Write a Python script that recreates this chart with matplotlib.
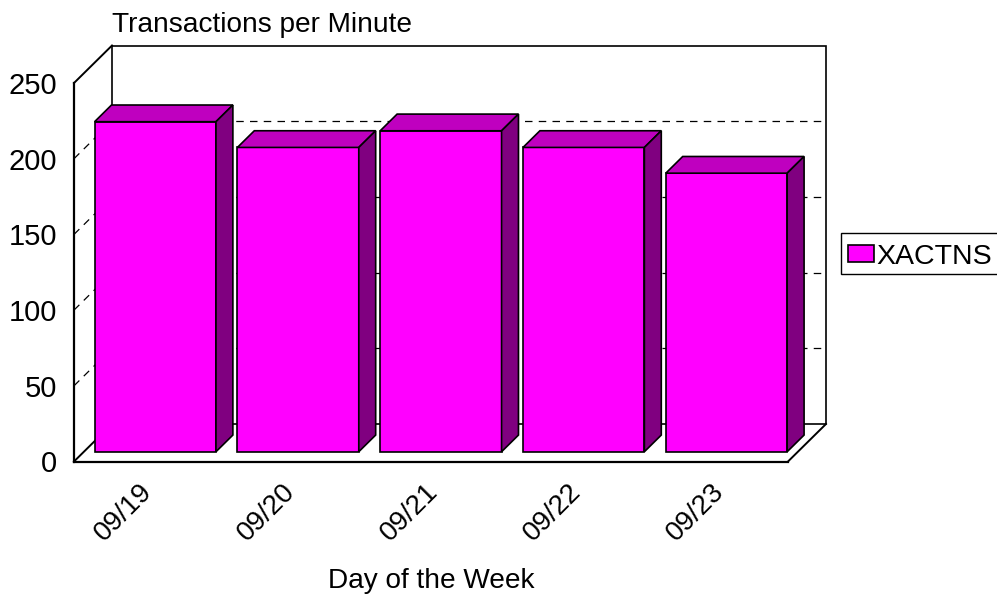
import matplotlib
matplotlib.use("Agg")
import matplotlib.pyplot as plt
from matplotlib.patches import Polygon, Patch
from matplotlib.transforms import ScaledTranslation

plt.rcParams['font.family'] = ['Liberation Sans', 'DejaVu Sans']

days = ['09/19', '09/20', '09/21', '09/22', '09/23']
xactns = [218, 201, 212, 201, 184]
y_ticks = [0, 50, 100, 150, 200, 250]
grid_vals = [50, 100, 150, 200]

W, H = 997, 595
fig = plt.figure(figsize=(W / 100, H / 100), dpi=100)
L, R, T, B = 74.0, 788.0, 83.0, 461.5
ax = fig.add_axes([L / W, 1 - B / H, (R - L) / W, (B - T) / H])
ax.set_xlim(0, 5)
ax.set_ylim(0, 250)

DX = 38.0 / ((R - L) / 5)          # wall depth in x units
DY = 37.5 / ((B - T) / 250)        # wall depth in y units
FRONT, BACK = 0.26, 0.705          # bar depth as a fraction of the wall depth
WIDTH = 0.85


def P(x, y, d=0.0):
    return (x + DX * d, y + DY * d)


def line(a, b, z=1, **kw):
    kw.setdefault('color', 'black')
    kw.setdefault('lw', 1.4)
    ax.plot([a[0], b[0]], [a[1], b[1]], zorder=z, clip_on=False,
            solid_capstyle='projecting', **kw)


# back wall and floor
ax.add_patch(Polygon([P(0, 0, 1), P(5, 0, 1), P(5, 250, 1), P(0, 250, 1)], closed=True,
                     fc='white', ec='black', lw=1.2, zorder=1, clip_on=False))
line(P(0, 250), P(0, 250, 1))
line(P(0, 0), P(0, 0, 1))
line(P(5, 0), P(5, 0, 1))

# dashed grid on back and side walls
for v in grid_vals:
    line(P(0, v, 1), P(5, v, 1), z=1.5, lw=0.9, linestyle=(0, (6, 5)))
    line(P(0, v), P(0, v, 1), z=1.5, lw=0.9, linestyle=(0, (6, 5)))

# pseudo-3D bars
for i, v in enumerate(xactns):
    x0, x1 = i + 0.5 - WIDTH / 2, i + 0.5 + WIDTH / 2
    kw = dict(closed=True, ec='black', lw=1.2, zorder=3, clip_on=False, joinstyle='miter')
    ax.add_patch(Polygon([P(x0, 0, FRONT), P(x1, 0, FRONT), P(x1, v, FRONT), P(x0, v, FRONT)],
                         fc='#FF00FF', **kw))
    ax.add_patch(Polygon([P(x0, v, FRONT), P(x1, v, FRONT), P(x1, v, BACK), P(x0, v, BACK)],
                         fc='#BF00BF', **kw))
    ax.add_patch(Polygon([P(x1, 0, FRONT), P(x1, 0, BACK), P(x1, v, BACK), P(x1, v, FRONT)],
                         fc='#800080', **kw))

# axes furniture
for s in ('top', 'right'):
    ax.spines[s].set_visible(False)
for s in ('left', 'bottom'):
    ax.spines[s].set_linewidth(1.6)
    ax.spines[s].set_zorder(4)
ax.patch.set_visible(False)

ax.set_yticks(y_ticks)
ax.set_xticks([i + 0.5 for i in range(len(days))])
ax.set_xticklabels(days, rotation=45, ha='right', va='top', rotation_mode='anchor')
ax.tick_params(axis='y', length=0, pad=12, labelsize=21)
ax.tick_params(axis='x', length=0, pad=14, labelsize=20)
shift = ScaledTranslation(-6 / 100, 2 / 100, fig.dpi_scale_trans)
for lab in ax.get_xticklabels():
    lab.set_transform(lab.get_transform() + shift)

ax.set_xlabel('Day of the Week', fontsize=20.2, labelpad=0)
ax.xaxis.set_label_coords(0.5, -(567.5 - B) / (B - T), transform=ax.transAxes)
ax.xaxis.label.set_verticalalignment('top')
ax.set_title('Transactions per Minute', loc='left', fontsize=20.2,
             x=38.0 / (R - L), y=1 + (T - 32.5 - 8.3) / (B - T))

leg = fig.legend(handles=[Patch(fc='#FF00FF', ec='black', lw=1.2, label='XACTNS')],
                 loc='center left', bbox_to_anchor=(840.5 / W, 1 - 253.5 / H),
                 fontsize=20.5, frameon=True, fancybox=False, framealpha=1, edgecolor='black',
                 borderpad=0.27, handlelength=0.9, handleheight=0.55, handletextpad=0.1,
                 borderaxespad=0)
leg.get_texts()[0].set_position((0, -3))
hp = leg.get_patches()[0]
hp.set_y(hp.get_y() - 2.4)

fig.savefig('out.png', dpi=100)
